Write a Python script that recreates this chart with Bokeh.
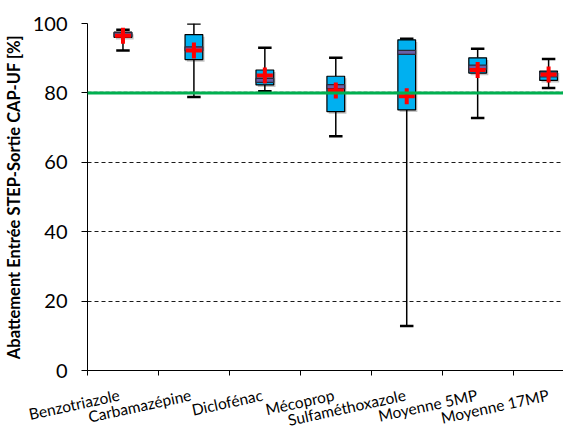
import numpy as np
from bokeh.plotting import figure
from bokeh.layouts import column
from bokeh.models import Range1d, FixedTicker, Span, Grid
from bokeh.embed import file_html
from bokeh.resources import INLINE

categories = ["Benzotriazole", "Carbamazépine", "Diclofénac", "Mécoprop",
              "Sulfaméthoxazole", "Moyenne 5MP", "Moyenne 17MP"]
whisker_low = [92.2, 78.8, 80.5, 67.5, 12.8, 72.8, 81.4]
q1 = [96.0, 89.6, 82.3, 74.6, 75.1, 85.7, 83.6]
median = [96.8, 92.7, 83.6, 81.8, 91.7, 87.4, 85.2]
q3 = [97.5, 96.8, 86.6, 84.8, 95.3, 90.1, 86.3]
whisker_high = [98.2, 100.0, 93.0, 90.1, 95.6, 92.7, 89.8]
mean = [96.5, 92.2, 85.0, 80.7, 79.0, 86.6, 85.3]
y_ticks = [0, 20, 40, 60, 80, 100]
target = 80

FONT = "Lato"
n = len(categories)
xc = np.arange(n, dtype=float)
bw = 0.25
cap = 0.095

W = 563
LEFT = 83
X0, X1 = -0.5, 6.21
TOP, FRAME_H, BOT = 23, 347, 12
STRIP_H = 431 - (TOP + FRAME_H + BOT)

p = figure(width=W, height=TOP + FRAME_H + BOT, x_range=Range1d(X0, X1), y_range=Range1d(0, 100),
           output_backend="svg", toolbar_location=None,
           min_border_left=LEFT, min_border_top=TOP, min_border_right=0, min_border_bottom=BOT)
p.frame_align = False
p.outline_line_color = None
p.background_fill_color = "white"
p.border_fill_color = "white"

# grids
p.xgrid.visible = False
p.ygrid.ticker = FixedTicker(ticks=[20, 40, 60])
p.ygrid.grid_line_color = "#1a1a1a"
p.ygrid.grid_line_dash = "4 3"
p.ygrid.grid_line_width = 1
g2 = Grid(dimension=1, ticker=FixedTicker(ticks=[80, 100]), grid_line_color="#8c8c8c",
          grid_line_dash="4 2", grid_line_width=2)
p.add_layout(g2)

# y axis
p.yaxis.ticker = FixedTicker(ticks=y_ticks)
p.yaxis.major_label_text_font = FONT
p.yaxis.major_label_text_font_size = "20px"
p.yaxis.major_label_text_color = "black"
p.yaxis.axis_line_color = "black"
p.yaxis.major_tick_line_color = "black"
p.yaxis.major_tick_out = 6
p.yaxis.major_tick_in = 0
p.yaxis.minor_tick_line_color = None
p.yaxis.major_label_standoff = 14
p.yaxis.axis_label = "Abattement Entrée STEP-Sortie CAP-UF [%]"
p.yaxis.axis_label_text_font = FONT
p.yaxis.axis_label_text_font_style = "bold"
p.yaxis.axis_label_text_font_size = "16.5px"
p.yaxis.axis_label_text_color = "black"
p.yaxis.axis_label_standoff = 6

# x axis: tick marks at category boundaries only
p.xaxis.ticker = FixedTicker(ticks=[], minor_ticks=list(xc - 0.5))
p.xaxis.major_label_standoff = 0
p.xaxis.major_tick_line_color = None
p.xaxis.major_tick_out = 0
p.xaxis.major_tick_in = 0
p.xaxis.minor_tick_line_color = "black"
p.xaxis.minor_tick_out = 5
p.xaxis.minor_tick_in = 0
p.xaxis.axis_line_color = "black"

# box shadows
dx, dy = 0.025, 0.6
p.quad(left=xc - bw / 2 + dx, right=xc + bw / 2 + dx,
       top=np.array(q3) - dy, bottom=np.array(q1) - dy,
       fill_color="#c4c4c4", line_color=None)

# whiskers
p.segment(x0=xc, y0=whisker_low, x1=xc, y1=q1, line_color="black", line_width=1.5)
p.segment(x0=xc, y0=q3, x1=xc, y1=whisker_high, line_color="black", line_width=1.5)
p.segment(x0=xc - cap, y0=whisker_low, x1=xc + cap, y1=whisker_low, line_color="black", line_width=2.5)
p.segment(x0=xc - cap, y0=whisker_high, x1=xc + cap, y1=whisker_high, line_color="black", line_width=2.5)

# boxes
p.quad(left=xc - bw / 2, right=xc + bw / 2, top=q3, bottom=q1,
       fill_color="#00B0F0", line_color="black", line_width=1.2)

# medians
p.rect(x=xc, y=median, width=bw, height=4, height_units="screen",
       fill_color="#6a5fa8", line_color="#2a2a3a", line_width=1.2)

# means
p.scatter(x=xc, y=mean, marker="cross", size=16, line_color="#ff0000", line_width=4)

# target line
p.add_layout(Span(location=target, dimension="width", line_color="#00B050", line_width=3))

# category label strip (full width, same x scale as the plot frame)
ppu = (W - LEFT) / (X1 - X0)
p2 = figure(width=W, height=STRIP_H, x_range=Range1d(X0 - LEFT / ppu, X1),
            y_range=Range1d(-STRIP_H, 0), output_backend="svg", toolbar_location=None,
            x_axis_type=None, y_axis_type=None, min_border=0)
p2.frame_align = False
p2.outline_line_color = None
p2.background_fill_color = "white"
p2.border_fill_color = "white"
p2.text(x=xc, y=-(24 - BOT), text=categories, angle=0.215, text_align="right",
        text_baseline="middle", text_font={"value": FONT}, text_font_size="15.5px",
        text_color="black")

layout = column(p, p2, spacing=0)
open("out.html", "w").write(file_html(layout, INLINE))
